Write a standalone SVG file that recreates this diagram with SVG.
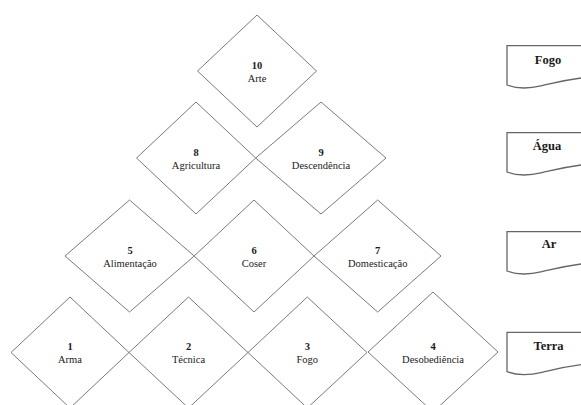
<svg xmlns="http://www.w3.org/2000/svg" width="581" height="405" viewBox="0 0 581 405">
<style>
.d{fill:none;stroke:#7a7a7a;stroke-width:1}
.doc{fill:#fff;stroke:#666;stroke-width:1.3}
text{font-family:'Liberation Serif','DejaVu Serif',serif;fill:#1a1a1a;text-anchor:middle}
.n{font-size:10.5px;font-weight:bold}
.l{font-size:10.5px}
.t{font-size:12.5px;font-weight:bold}
</style>
<defs>
<path id="docshape" d="M0,0 H86 V31 C62,33 50,36.5 35,40 C20,43.5 8,42.5 0,39.3 Z"/>
</defs>
<rect width="581" height="405" fill="#fff"/>

<g font-family="Liberation Serif, serif">
<g id="node10">
<polygon class="d" points="257,15 316.5,71 257,127 197.5,71"/>
<text class="n" x="257" y="69">10</text>
<text class="l" x="257" y="82">Arte</text>
</g>
<g id="node8">
<polygon class="d" points="196,102 255.7,158 196,214 136.5,158"/>
<text class="n" x="196" y="156">8</text>
<text class="l" x="196" y="169">Agricultura</text>
</g>
<g id="node9">
<polygon class="d" points="321,102 386,158 321,214 255.7,158"/>
<text class="n" x="321" y="156">9</text>
<text class="l" x="321" y="169">Descendência</text>
</g>
<g id="node5">
<polygon class="d" points="129.5,200 194.2,256 129.5,312 65,256"/>
<text class="n" x="130" y="254">5</text>
<text class="l" x="130" y="267">Alimentação</text>
</g>
<g id="node6">
<polygon class="d" points="254,200 314,256 254,312 194.2,256"/>
<text class="n" x="254" y="254">6</text>
<text class="l" x="254" y="267">Coser</text>
</g>
<g id="node7">
<polygon class="d" points="377.7,200 441,256 377.7,312 314,256"/>
<text class="n" x="377.7" y="254">7</text>
<text class="l" x="377.7" y="267">Domesticação</text>
</g>
<g id="node1">
<polygon class="d" points="70,297 129,352.5 70,408 11,352.5"/>
<text class="n" x="70" y="350">1</text>
<text class="l" x="70" y="363">Arma</text>
</g>
<g id="node2">
<polygon class="d" points="188.5,297 248,352.5 188.5,408 129,352.5"/>
<text class="n" x="188.5" y="350">2</text>
<text class="l" x="188.5" y="363">Técnica</text>
</g>
<g id="node3">
<polygon class="d" points="307.3,297 367,352.5 307.3,408 248,352.5"/>
<text class="n" x="307.3" y="350">3</text>
<text class="l" x="307.3" y="363">Fogo</text>
</g>
<g id="node4">
<polygon class="d" points="433,292 498,352 433,412 368,352"/>
<text class="n" x="433" y="350">4</text>
<text class="l" x="433" y="363">Desobediência</text>
</g>

<g id="docFogo" transform="translate(507,45.7)">
<use href="#docshape" class="doc"/>
<text class="t" x="41" y="18.6">Fogo</text>
</g>
<g id="docAgua" transform="translate(507,132.7)">
<use href="#docshape" class="doc"/>
<text class="t" x="40" y="17.6">Água</text>
</g>
<g id="docAr" transform="translate(507,231.7)">
<use href="#docshape" class="doc"/>
<text class="t" x="42" y="16.6">Ar</text>
</g>
<g id="docTerra" transform="translate(507,332.3)">
<use href="#docshape" class="doc"/>
<text class="t" x="41.5" y="18">Terra</text>
</g>
</g>
</svg>
